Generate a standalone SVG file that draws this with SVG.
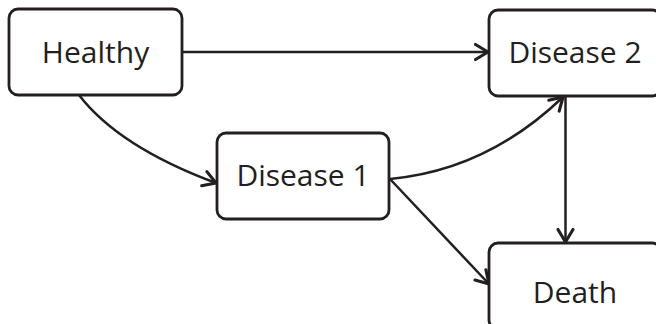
<svg xmlns="http://www.w3.org/2000/svg" width="656" height="324" viewBox="0 0 656 324">
<style>
.box{fill:#fff;stroke:#231f20;stroke-width:2.8}
.lbl{font-family:"Open Sans","Liberation Sans",sans-serif;font-size:30px;fill:#231f20;text-anchor:middle}
.edge{fill:none;stroke:#231f20;stroke-width:2.5;marker-end:url(#arr)}
</style>
<defs>
<marker id="arr" markerUnits="userSpaceOnUse" markerWidth="20" markerHeight="20" viewBox="-12 -8 14 16" refX="0" refY="0" orient="auto">
<path d="M-10,-6 L0,0 L-10,6" fill="none" stroke="#231f20" stroke-width="2.5" stroke-linecap="round" stroke-linejoin="round"/>
</marker>
</defs>
<g id="connectors">
<path class="edge" d="M182,52 L488,52"/>
<path class="edge" d="M79,95 Q119,147 216,183"/>
<path class="edge" d="M390,179 Q487,170 563,97"/>
<path class="edge" d="M390,179 L489,284"/>
<path class="edge" d="M565.5,96 L565.5,242"/>
</g>
<g id="healthy"><rect class="box" x="9" y="9" width="173" height="86" rx="9"/><text class="lbl" x="95.5" y="63">Healthy</text></g>
<g id="disease2"><rect class="box" x="489" y="10" width="172" height="86" rx="9"/><text class="lbl" x="575" y="63">Disease 2</text></g>
<g id="disease1"><rect class="box" x="217" y="133" width="172" height="86" rx="9"/><text class="lbl" x="303" y="186">Disease 1</text></g>
<g id="death"><rect class="box" x="489" y="243" width="172" height="86" rx="9"/><text class="lbl" x="575" y="303">Death</text></g>
</svg>
